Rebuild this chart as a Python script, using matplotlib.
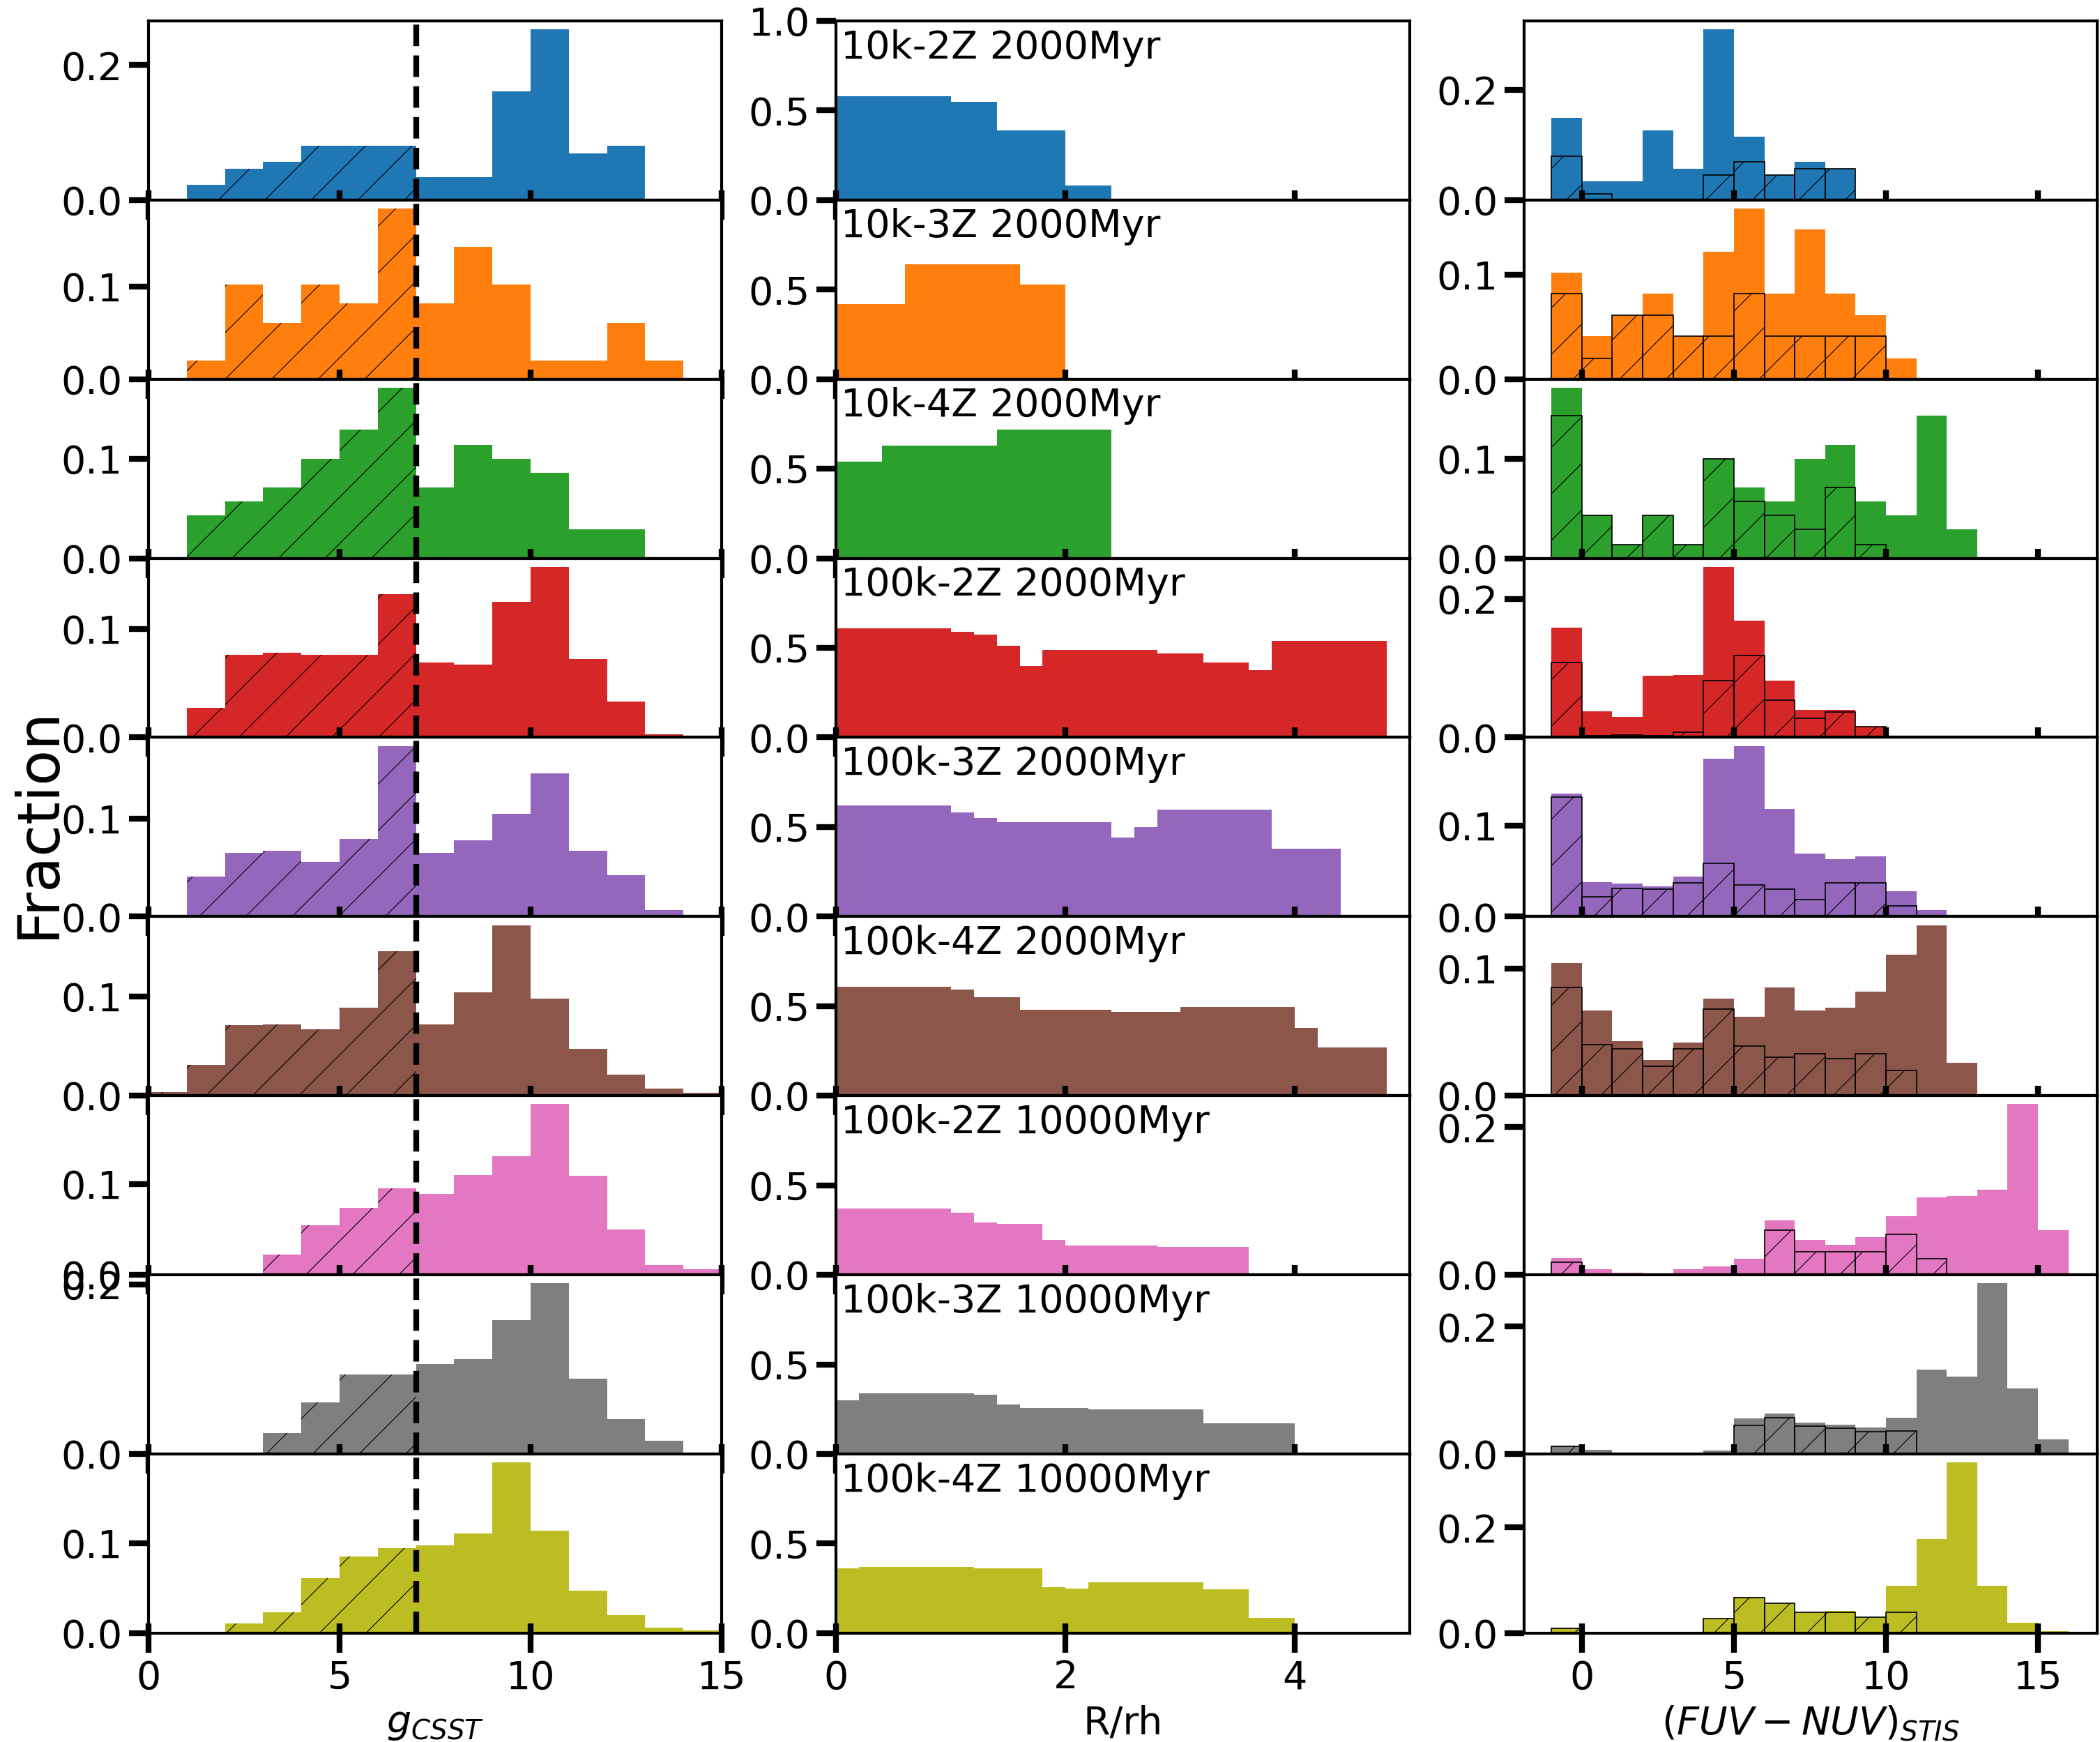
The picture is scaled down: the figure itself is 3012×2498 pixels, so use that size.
import numpy as np
import matplotlib
matplotlib.use('Agg')
import matplotlib.pyplot as plt

plt.rcParams['hatch.linewidth'] = 0.4

# Panel labels and colours (one row per model)
labels = ['10k-2Z 2000Myr', '10k-3Z 2000Myr', '10k-4Z 2000Myr',
          '100k-2Z 2000Myr', '100k-3Z 2000Myr', '100k-4Z 2000Myr',
          '100k-2Z 10000Myr', '100k-3Z 10000Myr', '100k-4Z 10000Myr']
colors = ['tab:blue', 'tab:orange', 'tab:green', 'tab:red', 'tab:purple',
          'tab:brown', 'tab:pink', 'tab:gray', 'tab:olive']

# Left column: g_CSST histograms, bins 0-1 ... 14-15 (bins below 7 are hatched)
g_cut = 7
g_frac = [
    [0, 0.023, 0.046, 0.057, 0.080, 0.080, 0.080, 0.034, 0.034, 0.161, 0.253, 0.069, 0.080, 0, 0],
    [0, 0.020, 0.102, 0.061, 0.102, 0.082, 0.184, 0.082, 0.143, 0.102, 0.020, 0.020, 0.061, 0.020, 0],
    [0, 0.043, 0.057, 0.071, 0.100, 0.129, 0.171, 0.071, 0.114, 0.100, 0.086, 0.029, 0.029, 0, 0],
    [0, 0.027, 0.076, 0.078, 0.076, 0.076, 0.132, 0.069, 0.067, 0.125, 0.157, 0.072, 0.033, 0.003, 0],
    [0, 0.041, 0.065, 0.067, 0.056, 0.079, 0.174, 0.065, 0.078, 0.105, 0.146, 0.067, 0.042, 0.007, 0],
    [0.004, 0.031, 0.071, 0.072, 0.067, 0.089, 0.146, 0.072, 0.104, 0.172, 0.098, 0.047, 0.021, 0.007, 0.003],
    [0, 0, 0, 0.022, 0.055, 0.074, 0.095, 0.089, 0.110, 0.131, 0.188, 0.109, 0.050, 0.011, 0.006],
    [0, 0, 0, 0.025, 0.061, 0.094, 0.094, 0.106, 0.112, 0.158, 0.201, 0.089, 0.041, 0.016, 0],
    [0, 0, 0.011, 0.023, 0.061, 0.085, 0.095, 0.098, 0.111, 0.190, 0.114, 0.047, 0.020, 0.006, 0.003],
]

# Middle column: radial distribution, bins of 0.2 R/rh from 0 to 4.8
r_frac = [
    [0.58, 0.58, 0.58, 0.58, 0.58, 0.55, 0.55, 0.39, 0.39, 0.39, 0.08, 0.08,
     0, 0, 0, 0, 0, 0, 0, 0, 0, 0, 0, 0],
    [0.42, 0.42, 0.42, 0.64, 0.64, 0.64, 0.64, 0.64, 0.53, 0.53, 0, 0,
     0, 0, 0, 0, 0, 0, 0, 0, 0, 0, 0, 0],
    [0.54, 0.54, 0.63, 0.63, 0.63, 0.63, 0.63, 0.72, 0.72, 0.72, 0.72, 0.72,
     0, 0, 0, 0, 0, 0, 0, 0, 0, 0, 0, 0],
    [0.61, 0.61, 0.61, 0.61, 0.61, 0.59, 0.574, 0.51, 0.40, 0.49, 0.49, 0.49,
     0.49, 0.49, 0.47, 0.47, 0.42, 0.42, 0.376, 0.54, 0.54, 0.54, 0.54, 0.54],
    [0.62, 0.62, 0.62, 0.62, 0.62, 0.58, 0.55, 0.526, 0.526, 0.526, 0.526, 0.526,
     0.44, 0.50, 0.596, 0.596, 0.596, 0.596, 0.596, 0.38, 0.38, 0.38, 0, 0],
    [0.61, 0.61, 0.61, 0.61, 0.61, 0.594, 0.55, 0.55, 0.478, 0.478, 0.478, 0.478,
     0.47, 0.47, 0.47, 0.496, 0.496, 0.496, 0.496, 0.496, 0.38, 0.27, 0.27, 0.27],
    [0.37, 0.37, 0.37, 0.37, 0.37, 0.348, 0.293, 0.283, 0.283, 0.196, 0.163, 0.163,
     0.163, 0.163, 0.156, 0.156, 0.156, 0.156, 0, 0, 0, 0, 0, 0],
    [0.30, 0.34, 0.34, 0.34, 0.34, 0.34, 0.33, 0.277, 0.255, 0.255, 0.255, 0.25,
     0.25, 0.25, 0.25, 0.25, 0.17, 0.17, 0.17, 0.17, 0, 0, 0, 0],
    [0.36, 0.37, 0.37, 0.37, 0.37, 0.37, 0.36, 0.36, 0.36, 0.255, 0.248, 0.284,
     0.284, 0.284, 0.284, 0.284, 0.245, 0.245, 0.086, 0.086, 0, 0, 0, 0],
]

# Right column: (FUV-NUV)_STIS, bins -1-0 ... 15-16; all stars and hatched subset
c_all = [
    [0.149, 0.034, 0.034, 0.126, 0.057, 0.310, 0.115, 0.046, 0.069, 0.057, 0, 0, 0, 0, 0, 0, 0],
    [0.102, 0.041, 0.061, 0.082, 0.041, 0.122, 0.163, 0.082, 0.143, 0.082, 0.061, 0.020, 0, 0, 0, 0, 0],
    [0.171, 0.043, 0.014, 0.043, 0.014, 0.100, 0.071, 0.057, 0.100, 0.114, 0.057, 0.043, 0.143, 0.029, 0, 0, 0],
    [0.158, 0.038, 0.030, 0.089, 0.090, 0.246, 0.168, 0.082, 0.040, 0.040, 0.016, 0, 0, 0, 0, 0, 0],
    [0.135, 0.038, 0.036, 0.033, 0.044, 0.173, 0.187, 0.118, 0.069, 0.063, 0.066, 0.028, 0.007, 0, 0, 0, 0],
    [0.104, 0.067, 0.043, 0.028, 0.042, 0.076, 0.062, 0.085, 0.067, 0.069, 0.082, 0.111, 0.134, 0.026, 0, 0, 0],
    [0.023, 0.008, 0.003, 0, 0.008, 0.011, 0.022, 0.074, 0.047, 0.041, 0.051, 0.079, 0.105, 0.107, 0.115, 0.231, 0.061],
    [0.013, 0.007, 0, 0, 0, 0.005, 0.056, 0.064, 0.049, 0.046, 0.042, 0.057, 0.133, 0.122, 0.268, 0.103, 0.023],
    [0.011, 0.001, 0, 0, 0, 0.027, 0.068, 0.057, 0.039, 0.042, 0.030, 0.089, 0.178, 0.323, 0.089, 0.020, 0.004],
]
c_hatch = [
    [0.080, 0.011, 0, 0, 0, 0.046, 0.069, 0.046, 0.057, 0.057, 0, 0, 0, 0, 0, 0, 0],
    [0.082, 0.020, 0.061, 0.061, 0.041, 0.041, 0.082, 0.041, 0.041, 0.041, 0.041, 0, 0, 0, 0, 0, 0],
    [0.143, 0.043, 0.014, 0.043, 0.014, 0.100, 0.057, 0.043, 0.029, 0.071, 0.014, 0, 0, 0, 0, 0, 0],
    [0.108, 0.003, 0.004, 0.003, 0.008, 0.082, 0.118, 0.054, 0.028, 0.037, 0.016, 0, 0, 0, 0, 0, 0],
    [0.131, 0.022, 0.031, 0.030, 0.037, 0.058, 0.035, 0.030, 0.019, 0.037, 0.037, 0.012, 0, 0, 0, 0, 0],
    [0.085, 0.040, 0.037, 0.023, 0.037, 0.068, 0.039, 0.030, 0.033, 0.029, 0.033, 0.020, 0, 0, 0, 0, 0],
    [0.017, 0, 0, 0, 0, 0, 0, 0.061, 0.031, 0.031, 0.031, 0.055, 0.022, 0, 0, 0, 0],
    [0.012, 0, 0, 0, 0, 0, 0.045, 0.057, 0.044, 0.040, 0.035, 0.036, 0, 0, 0, 0, 0],
    [0.009, 0, 0, 0, 0, 0.027, 0.067, 0.057, 0.039, 0.039, 0.030, 0.039, 0, 0, 0, 0, 0],
]


def style_axis(ax, xticks):
    for sp in ax.spines.values():
        sp.set_linewidth(1.5)
    ax.set_xticks(xticks)
    ax.xaxis.set_minor_locator(matplotlib.ticker.FixedLocator(xticks))
    ax.xaxis.remove_overlapping_locs = False
    ax.tick_params(axis='both', which='major', direction='out', length=10,
                   width=3, labelsize=20)
    ax.tick_params(axis='x', which='minor', direction='in', length=5, width=3)


def main():
    fig = plt.figure(figsize=(15.06, 12.49), dpi=200)
    axes = fig.subplots(9, 3, gridspec_kw=dict(hspace=0, wspace=0.2))
    fig.subplots_adjust(left=0.0707, right=0.9987, top=0.988, bottom=0.0625)

    g_left = np.arange(0, 15)
    r_left = np.arange(24) * 0.2
    c_left = np.arange(-1, 16)

    for i in range(9):
        col = colors[i]

        # left: g_CSST
        ax = axes[i, 0]
        h = np.array(g_frac[i])
        lo = g_left < g_cut
        ax.bar(g_left[lo], h[lo], width=1, align='edge', color=col,
               hatch='/', edgecolor='k', linewidth=0)
        ax.bar(g_left[~lo], h[~lo], width=1, align='edge', color=col,
               linewidth=0)
        ax.axvline(g_cut, color='k', ls='--', lw=3)
        ax.set_xlim(0, 15)
        style_axis(ax, [0, 5, 10, 15])

        # middle: R/rh
        ax = axes[i, 1]
        h = np.array(r_frac[i])
        ax.bar(r_left[h > 0], h[h > 0], width=0.2, align='edge', color=col,
               linewidth=0)
        ax.set_xlim(0, 5)
        ax.set_ylim(0, 1)
        ax.set_yticks([0, 0.5, 1.0] if i == 0 else [0, 0.5])
        ax.text(0.008, 0.955, labels[i], transform=ax.transAxes, fontsize=20,
                ha='left', va='top')
        style_axis(ax, [0, 2, 4])

        # right: FUV-NUV
        ax = axes[i, 2]
        h = np.array(c_all[i])
        ax.bar(c_left[h > 0], h[h > 0], width=1, align='edge', color=col,
               linewidth=0)
        h2 = np.array(c_hatch[i])
        ax.bar(c_left[h2 > 0], h2[h2 > 0], width=1, align='edge',
               facecolor='none', edgecolor='k', hatch='/', linewidth=0.6)
        ax.set_xlim(-1.9, 16.95)
        style_axis(ax, [0, 5, 10, 15])

        if i < 8:
            for ax in axes[i]:
                ax.tick_params(axis='x', labelbottom=False)

    axes[8, 0].set_xlabel('$g_{CSST}$', fontsize=20)
    axes[8, 1].set_xlabel('R/rh', fontsize=20)
    axes[8, 2].set_xlabel('$(FUV-NUV)_{STIS}$', fontsize=20)
    fig.text(0.018, 0.528, 'Fraction', rotation=90, fontsize=30,
             ha='center', va='center')

    fig.savefig('out.png', dpi=200)


if __name__ == '__main__':
    main()
